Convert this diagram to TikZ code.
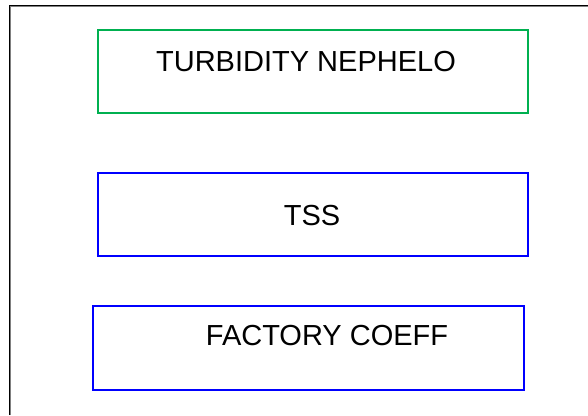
\documentclass[tikz,border=0pt]{standalone}
\usepackage{fontspec}
\setmainfont{Liberation Sans}
\definecolor{boxgreen}{RGB}{0,176,80}
\definecolor{boxblue}{RGB}{0,0,255}
\begin{document}
\begin{tikzpicture}[x=1pt,y=-1pt,
  panel/.style={draw, rectangle, inner sep=0pt, fill=none},
  greenpanel/.style={panel, draw=boxgreen, line width=1.4pt},
  bluepanel/.style={panel, draw=boxblue, line width=1.8pt},
  caption/.style={inner sep=0pt, anchor=base, font=\fontsize{29}{34}\selectfont}]
\useasboundingbox (0,0) rectangle (588,415);
\fill[white] (0,0) rectangle (588,415);
% page frame with its soft inner edge
\draw[line width=1pt, black!50] (10.6,415) -- (10.6,6.6) -- (588,6.6);
\draw[line width=1.4pt, black] (9.5,415) -- (9.5,5.5) -- (588,5.5);
% panels
\node[greenpanel, minimum width=430pt, minimum height=83pt] (turb) at (313,71.5) {};
\node[bluepanel, minimum width=430pt, minimum height=83pt] (tss) at (313,214.5) {};
\node[bluepanel, minimum width=431pt, minimum height=84pt] (coef) at (308.5,348) {};
% captions
\node[caption] (turbtext) at (306,71) {TURBIDITY NEPHELO};
\node[caption] (tsstext) at (312,225) {TSS};
\node[caption] (coeftext) at (327,345) {FACTORY COEFF};
\end{tikzpicture}
\end{document}
